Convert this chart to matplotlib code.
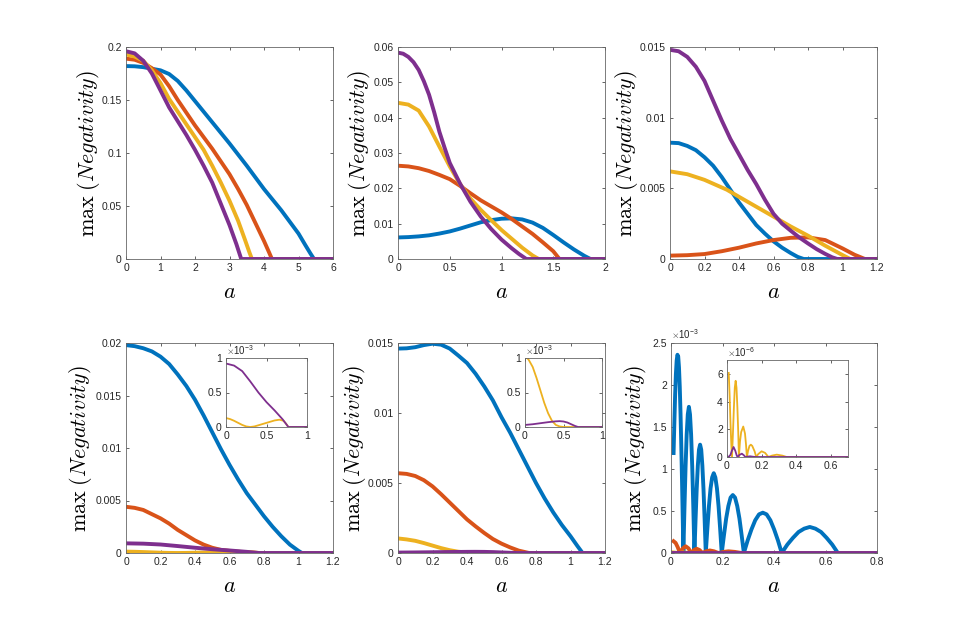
import numpy as np
import matplotlib
matplotlib.use('Agg')
import matplotlib.pyplot as plt
from matplotlib.ticker import FuncFormatter

plt.rcParams['font.family'] = ['Liberation Sans Narrow', 'Liberation Sans', 'DejaVu Sans']
plt.rcParams['mathtext.fontset'] = 'cm'

C_BLUE = '#0072BD'
C_ORANGE = '#D95319'
C_YELLOW = '#EDB120'
C_PURPLE = '#7E2F8E'

# ---- panel 1 ----
p1_blue_a = [0, 0.25, 0.5, 0.75, 1.0, 1.25, 1.5, 1.75, 2.0, 2.25, 2.5, 2.75, 3.0, 3.25, 3.5, 3.75,
             4.0, 4.25, 4.5, 4.75, 5.0, 5.2, 5.35, 5.45, 6]
p1_blue = [0.182, 0.1818, 0.181, 0.1795, 0.178, 0.1745, 0.168, 0.159, 0.149, 0.139, 0.129, 0.119,
           0.109, 0.0985, 0.088, 0.077, 0.066, 0.056, 0.046, 0.035, 0.024, 0.013, 0.005, 0, 0]
p1_orange_a = [0, 0.25, 0.5, 0.75, 1.0, 1.25, 1.5, 1.75, 2.0, 2.25, 2.5, 2.75, 3.0, 3.25, 3.5,
               3.75, 4.0, 4.15, 4.23, 6]
p1_orange = [0.189, 0.188, 0.185, 0.180, 0.174, 0.163, 0.150, 0.138, 0.126, 0.115, 0.104, 0.092,
             0.080, 0.066, 0.051, 0.034, 0.017, 0.006, 0, 0]
p1_yellow_a = [0, 0.25, 0.5, 0.75, 1.0, 1.25, 1.5, 1.75, 2.0, 2.25, 2.5, 2.75, 3.0, 3.25, 3.45,
               3.58, 3.65, 6]
p1_yellow = [0.193, 0.191, 0.187, 0.178, 0.166, 0.151, 0.139, 0.127, 0.115, 0.103, 0.088, 0.072,
             0.055, 0.036, 0.018, 0.006, 0, 0]
p1_purple_a = [0, 0.25, 0.5, 0.75, 1.0, 1.25, 1.5, 1.75, 2.0, 2.25, 2.5, 2.75, 3.0, 3.2, 3.34, 6]
p1_purple = [0.196, 0.194, 0.187, 0.175, 0.159, 0.143, 0.130, 0.117, 0.103, 0.088, 0.072, 0.052,
             0.032, 0.014, 0, 0]

# ---- panel 2 ----
p2_blue_a = [0, 0.1, 0.2, 0.3, 0.4, 0.5, 0.6, 0.7, 0.8, 0.9, 1.0, 1.1, 1.2, 1.3, 1.4, 1.5, 1.6,
             1.7, 1.8, 1.86, 2]
p2_blue = [0.0061, 0.0062, 0.0064, 0.0067, 0.0072, 0.0078, 0.0086, 0.0095, 0.0104, 0.0110, 0.0114,
           0.0115, 0.0112, 0.0103, 0.0088, 0.0068, 0.0047, 0.0027, 0.0009, 0, 0]
p2_orange_a = [0, 0.1, 0.2, 0.3, 0.4, 0.5, 0.6, 0.7, 0.8, 0.9, 1.0, 1.1, 1.2, 1.3, 1.4, 1.5,
               1.56, 2]
p2_orange = [0.0264, 0.0262, 0.0257, 0.0249, 0.0238, 0.0226, 0.0207, 0.0186, 0.0166, 0.0149,
             0.0132, 0.0113, 0.0092, 0.0071, 0.0047, 0.0022, 0, 0]
p2_yellow_a = [0, 0.1, 0.2, 0.3, 0.4, 0.5, 0.6, 0.7, 0.8, 0.9, 1.0, 1.1, 1.2, 1.3, 1.36, 2]
p2_yellow = [0.0442, 0.0437, 0.0420, 0.0375, 0.0318, 0.0262, 0.0212, 0.0171, 0.0139, 0.0110,
             0.0082, 0.0057, 0.0032, 0.0010, 0, 0]
p2_purple_a = [0, 0.05, 0.1, 0.15, 0.2, 0.25, 0.3, 0.35, 0.4, 0.45, 0.5, 0.6, 0.7, 0.8, 0.9, 1.0,
               1.1, 1.17, 1.24, 2]
p2_purple = [0.0584, 0.0581, 0.0572, 0.0557, 0.0535, 0.0503, 0.0465, 0.0415, 0.0360, 0.0315,
             0.0272, 0.0213, 0.0162, 0.0120, 0.0085, 0.0055, 0.0030, 0.0014, 0, 0]

# ---- panel 3 ----
p3_blue_a = [0, 0.05, 0.1, 0.15, 0.2, 0.25, 0.3, 0.35, 0.4, 0.45, 0.5, 0.55, 0.6, 0.65, 0.7, 0.74,
             0.775, 1.2]
p3_blue = [0.00823, 0.0082, 0.0080, 0.0077, 0.0072, 0.0066, 0.0058, 0.0049, 0.0040, 0.0032, 0.0024,
           0.0018, 0.00125, 0.0008, 0.00042, 0.00015, 0, 0]
p3_orange_a = [0, 0.1, 0.2, 0.3, 0.4, 0.5, 0.6, 0.7, 0.8, 0.9, 1.0, 1.07, 1.13, 1.2]
p3_orange = [0.00024, 0.00027, 0.00035, 0.00055, 0.0008, 0.0011, 0.00134, 0.0015, 0.00153,
             0.00134, 0.00075, 0.0003, 0, 0]
p3_yellow_a = [0, 0.1, 0.2, 0.33, 0.4, 0.5, 0.6, 0.7, 0.8, 0.9, 1.0, 1.045, 1.2]
p3_yellow = [0.0062, 0.0060, 0.0056, 0.0049, 0.0044, 0.0037, 0.0030, 0.0023, 0.00165, 0.00094,
             0.00028, 0, 0]
p3_purple_a = [0, 0.05, 0.1, 0.15, 0.2, 0.25, 0.3, 0.35, 0.4, 0.45, 0.5, 0.55, 0.6, 0.65, 0.7,
               0.75, 0.8, 0.85, 0.9, 0.94, 0.97, 1.2]
p3_purple = [0.0148, 0.0147, 0.0143, 0.0136, 0.0126, 0.0112, 0.0098, 0.0085, 0.0074, 0.0063,
             0.0053, 0.0042, 0.0032, 0.0025, 0.0020, 0.00152, 0.0011, 0.0007, 0.00036, 0.00012,
             0, 0]

# ---- panel 4 ----
p4_blue_a = [0, 0.05, 0.1, 0.15, 0.2, 0.25, 0.3, 0.35, 0.4, 0.45, 0.5, 0.55, 0.6, 0.65, 0.7, 0.75,
             0.8, 0.85, 0.9, 0.95, 1.0, 1.02, 1.2]
p4_blue = [0.0198, 0.0197, 0.0195, 0.0192, 0.0187, 0.0180, 0.0170, 0.0159, 0.0146, 0.0131, 0.0115,
           0.0099, 0.0084, 0.0070, 0.0057, 0.0046, 0.0035, 0.0025, 0.0016, 0.0008, 0.0002, 0, 0]
p4_orange_a = [0, 0.05, 0.1, 0.15, 0.2, 0.25, 0.3, 0.35, 0.4, 0.45, 0.5, 0.55, 0.6, 0.7, 0.78, 1.2]
p4_orange = [0.0044, 0.0043, 0.0041, 0.0037, 0.0033, 0.0028, 0.0022, 0.0017, 0.0012, 0.0008,
             0.0005, 0.0003, 0.0002, 0.00005, 0, 0]
p4_yellow_a = [0, 0.05, 0.1, 0.15, 0.2, 0.25, 0.3, 0.35, 0.4, 0.5, 0.6, 0.66, 0.71, 0.74, 0.77, 1.2]
p4_yellow = [1.3e-4, 1.15e-4, 0.9e-4, 0.6e-4, 0.3e-4, 0.08e-4, 0, 0.08e-4, 0.25e-4, 0.6e-4,
             0.95e-4, 1.06e-4, 0.9e-4, 0.5e-4, 0, 0]
p4_purple_a = [0, 0.1, 0.2, 0.3, 0.4, 0.5, 0.6, 0.7, 0.77, 1.2]
p4_purple = [0.92e-3, 0.89e-3, 0.81e-3, 0.66e-3, 0.50e-3, 0.36e-3, 0.24e-3, 0.11e-3, 0, 0]

# ---- panel 5 ----
p5_blue_a = [0, 0.05, 0.1, 0.15, 0.2, 0.25, 0.3, 0.35, 0.4, 0.45, 0.5, 0.55, 0.6, 0.65, 0.7, 0.75,
             0.8, 0.85, 0.9, 0.95, 1.0, 1.04, 1.07, 1.2]
p5_blue = [0.0146, 0.01462, 0.0147, 0.01485, 0.01495, 0.01488, 0.0146, 0.0141, 0.01357, 0.0128,
           0.0119, 0.0109, 0.0097, 0.0086, 0.0074, 0.0062, 0.0050, 0.0039, 0.0029, 0.0020, 0.0012,
           0.0005, 0, 0]
p5_orange_a = [0, 0.05, 0.1, 0.15, 0.2, 0.25, 0.3, 0.35, 0.4, 0.45, 0.5, 0.55, 0.6, 0.65, 0.7, 0.76,
               1.2]
p5_orange = [0.0057, 0.00565, 0.0055, 0.0052, 0.00476, 0.0042, 0.0036, 0.0030, 0.0024, 0.0019,
             0.00143, 0.0010, 0.00067, 0.0004, 0.00017, 0, 0]
p5_yellow_a = [0, 0.05, 0.1, 0.15, 0.2, 0.25, 0.3, 0.35, 0.4, 0.45, 0.5, 1.2]
p5_yellow = [1.04e-3, 0.97e-3, 0.87e-3, 0.71e-3, 0.53e-3, 0.35e-3, 0.2e-3, 0.09e-3, 0.03e-3,
             0.008e-3, 0, 0]
p5_purple_a = [0, 0.1, 0.2, 0.3, 0.4, 0.45, 0.5, 0.55, 0.6, 0.65, 0.69, 1.2]
p5_purple = [0.03e-3, 0.04e-3, 0.055e-3, 0.07e-3, 0.082e-3, 0.085e-3, 0.08e-3, 0.065e-3, 0.04e-3,
             0.015e-3, 0, 0]

# ---- panel 6 ----
p6_blue_a = [0.010, 0.013, 0.016, 0.019, 0.022, 0.025, 0.028, 0.031, 0.034, 0.037, 0.040, 0.043,
             0.046, 0.048,
             0.0523, 0.0566, 0.0609, 0.0652, 0.0695, 0.0738, 0.0781, 0.0824, 0.0867, 0.091,
             0.0954, 0.0998, 0.1042, 0.1086, 0.113, 0.1174, 0.1218, 0.1262, 0.1306, 0.135,
             0.1412, 0.1474, 0.1536, 0.1598, 0.166, 0.1722, 0.1784, 0.1846, 0.1908, 0.197,
             0.2056, 0.2142, 0.2228, 0.2314, 0.240, 0.2486, 0.2572, 0.2658, 0.2744, 0.283,
             0.2977, 0.3124, 0.3271, 0.3418, 0.3565, 0.3712, 0.3859, 0.4006, 0.4153, 0.430,
             0.4518, 0.4736, 0.4954, 0.5172, 0.539, 0.5608, 0.5826, 0.6044, 0.6262, 0.648, 0.8]
p6_blue = [1.19e-3, 1.55e-3, 1.88e-3, 2.13e-3, 2.29e-3, 2.36e-3, 2.34e-3, 2.21e-3, 1.98e-3, 1.66e-3,
           1.27e-3, 0.83e-3, 0.35e-3, 0,
           0.54e-3, 1.03e-3, 1.41e-3, 1.65e-3, 1.74e-3, 1.65e-3, 1.41e-3, 1.03e-3, 0.54e-3, 0,
           0.40e-3, 0.76e-3, 1.04e-3, 1.23e-3, 1.29e-3, 1.23e-3, 1.04e-3, 0.76e-3, 0.40e-3, 0,
           0.29e-3, 0.56e-3, 0.77e-3, 0.90e-3, 0.95e-3, 0.90e-3, 0.77e-3, 0.56e-3, 0.29e-3, 0,
           0.21e-3, 0.41e-3, 0.56e-3, 0.66e-3, 0.69e-3, 0.66e-3, 0.56e-3, 0.41e-3, 0.21e-3, 0,
           0.15e-3, 0.28e-3, 0.39e-3, 0.46e-3, 0.48e-3, 0.46e-3, 0.39e-3, 0.28e-3, 0.15e-3, 0,
           0.10e-3, 0.18e-3, 0.25e-3, 0.29e-3, 0.31e-3, 0.29e-3, 0.25e-3, 0.18e-3, 0.10e-3, 0, 0]
p6_orange_a = [0.010, 0.018, 0.026, 0.035, 0.046, 0.057, 0.068, 0.078, 0.089, 0.100, 0.111, 0.122,
               0.136, 0.151, 0.167, 0.184, 0.204, 0.223, 0.248, 0.274, 0.8]
p6_orange = [0.14e-3, 0.12e-3, 0.07e-3, 0, 0.055e-3, 0.08e-3, 0.055e-3, 0, 0.035e-3, 0.05e-3,
             0.035e-3, 0, 0.02e-3, 0.03e-3, 0.02e-3, 0, 0.013e-3, 0.02e-3, 0.013e-3, 0, 0]
p6_yellow_a = [0.010, 0.015, 0.020, 0.025, 0.029, 0.034, 0.040, 0.045, 0.050, 0.055, 0.060, 0.065,
               0.069, 0.075, 0.082, 0.094, 0.104, 0.110, 0.115, 0.122, 0.130, 0.138, 0.146, 0.160,
               0.169, 0.180, 0.200, 0.220, 0.240, 0.260, 0.288, 0.320, 0.345, 0.8]
p6_yellow = [6.07e-6, 4.5e-6, 2.5e-6, 0.9e-6, 0, 1.6e-6, 3.6e-6, 5.0e-6, 5.5e-6, 5.0e-6, 3.6e-6, 1.8e-6,
             0, 1.1e-6, 1.8e-6, 2.2e-6, 1.7e-6, 0.9e-6, 0, 0.45e-6, 0.8e-6, 0.89e-6, 0.8e-6, 0.4e-6,
             0, 0.2e-6, 0.41e-6, 0.3e-6, 0, 0.1e-6, 0.17e-6, 0.1e-6, 0, 0]
p6_purple_a = [0.010, 0.020, 0.028, 0.038, 0.048, 0.056, 0.061, 0.072, 0.086, 0.098, 0.106,
               0.120, 0.134, 0.150, 0.165, 0.8]
p6_purple = [0.02e-6, 0.15e-6, 0.45e-6, 0.72e-6, 0.45e-6, 0.12e-6, 0, 0.15e-6, 0.24e-6, 0.12e-6, 0,
             0.03e-6, 0.05e-6, 0.02e-6, 0, 0]

fig = plt.figure(figsize=(9.69, 6.23), dpi=100)
fmt = FuncFormatter(lambda v, p: '%g' % round(v, 6))
W = 207 / 969


def estilo(ax, lw_box=0.6):
    ax.tick_params(direction='in', top=True, right=True, length=2.5, width=0.5,
                   colors='#262626', labelsize=7.5, pad=3)
    for s in ax.spines.values():
        s.set_color('#666666')
        s.set_linewidth(lw_box)


def panel(pos, xmax, xstep, ymax, ystep, curvas, ylab_x, exp_label=None):
    ax = fig.add_axes(pos)
    for a, v, c in curvas:
        ax.plot(a, v, color=c, lw=2.8, solid_joinstyle='round')
    ax.set_xlim(0, xmax)
    ax.set_ylim(0, ymax)
    ax.set_xticks(np.arange(0, xmax + xstep / 2, xstep))
    ax.set_yticks(np.arange(0, ymax + ystep / 2, ystep))
    ax.xaxis.set_major_formatter(fmt)
    if exp_label is None:
        ax.yaxis.set_major_formatter(fmt)
    else:
        esc = 10.0 ** exp_label
        ax.yaxis.set_major_formatter(FuncFormatter(lambda v, p: '%g' % round(v / esc, 6)))
        ax.text(0.0, 1.01, r'$\times\mathregular{10^{%d}}$' % exp_label, transform=ax.transAxes,
                ha='left', va='bottom', fontsize=7, color='#262626')
    estilo(ax)
    ax.set_xlabel(r'$a$', fontsize=16, labelpad=6)
    ax.set_ylabel(r'$\max\;(Negativity)$', fontsize=16)
    ax.yaxis.set_label_coords(ylab_x, 0.5)
    return ax


def inset(pos, xmax, xticks, ymax, yticks, exp_label, curvas):
    ax = fig.add_axes(pos)
    for a, v, c in curvas:
        ax.plot(a, v, color=c, lw=1.3)
    ax.set_xlim(0, xmax)
    ax.set_ylim(0, ymax)
    ax.set_xticks(xticks)
    ax.set_yticks(yticks)
    esc = 10.0 ** exp_label
    ax.xaxis.set_major_formatter(fmt)
    ax.yaxis.set_major_formatter(FuncFormatter(lambda v, p: '%g' % round(v / esc, 6)))
    estilo(ax)
    ax.text(0.0, 1.01, r'$\times\mathregular{10^{%d}}$' % exp_label, transform=ax.transAxes,
            ha='left', va='bottom', fontsize=7, color='#262626')
    return ax


top_b, top_h = 1 - 259 / 623, 212 / 623
bot_b, bot_h = 1 - 553 / 623, 210 / 623

panel([126 / 969, top_b, W, top_h], 6, 1, 0.2, 0.05,
      [(p1_blue_a, p1_blue, C_BLUE), (p1_orange_a, p1_orange, C_ORANGE),
       (p1_yellow_a, p1_yellow, C_YELLOW), (p1_purple_a, p1_purple, C_PURPLE)], -0.115)
panel([398 / 969, top_b, W, top_h], 2, 0.5, 0.06, 0.01,
      [(p2_blue_a, p2_blue, C_BLUE), (p2_orange_a, p2_orange, C_ORANGE),
       (p2_yellow_a, p2_yellow, C_YELLOW), (p2_purple_a, p2_purple, C_PURPLE)], -0.12)
panel([670 / 969, top_b, W, top_h], 1.2, 0.2, 0.015, 0.005,
      [(p3_blue_a, p3_blue, C_BLUE), (p3_orange_a, p3_orange, C_ORANGE),
       (p3_yellow_a, p3_yellow, C_YELLOW), (p3_purple_a, p3_purple, C_PURPLE)], -0.145)

panel([126 / 969, bot_b, W, bot_h], 1.2, 0.2, 0.02, 0.005,
      [(p4_blue_a, p4_blue, C_BLUE), (p4_orange_a, p4_orange, C_ORANGE),
       (p4_yellow_a, p4_yellow, C_YELLOW), (p4_purple_a, p4_purple, C_PURPLE)], -0.155)
panel([398 / 969, bot_b, W, bot_h], 1.2, 0.2, 0.015, 0.005,
      [(p5_blue_a, p5_blue, C_BLUE), (p5_orange_a, p5_orange, C_ORANGE),
       (p5_yellow_a, p5_yellow, C_YELLOW), (p5_purple_a, p5_purple, C_PURPLE)], -0.145)
panel([671 / 969, bot_b, 206 / 969, bot_h], 0.8, 0.2, 2.5e-3, 0.5e-3,
      [(p6_blue_a, p6_blue, C_BLUE), (p6_orange_a, p6_orange, C_ORANGE),
       (p6_yellow_a, p6_yellow, C_YELLOW), (p6_purple_a, p6_purple, C_PURPLE)], -0.105,
      exp_label=-3)

inset([226 / 969, 1 - 427 / 623, 81 / 969, 69 / 623], 1, [0, 0.5, 1], 1e-3, [0, 0.5e-3, 1e-3], -3,
      [(p4_yellow_a, p4_yellow, C_YELLOW), (p4_purple_a, p4_purple, C_PURPLE)])
inset([525 / 969, 1 - 427 / 623, 77 / 969, 69 / 623], 1, [0, 0.5, 1], 1e-3, [0, 0.5e-3, 1e-3], -3,
      [(p5_yellow_a, p5_yellow, C_YELLOW), (p5_purple_a, p5_purple, C_PURPLE)])
inset([727 / 969, 1 - 457 / 623, 121 / 969, 97 / 623], 0.7, [0, 0.2, 0.4, 0.6], 7e-6,
      [0, 2e-6, 4e-6, 6e-6], -6,
      [(p6_yellow_a, p6_yellow, C_YELLOW), (p6_purple_a, p6_purple, C_PURPLE)])

plt.savefig('out.png', dpi=100)
